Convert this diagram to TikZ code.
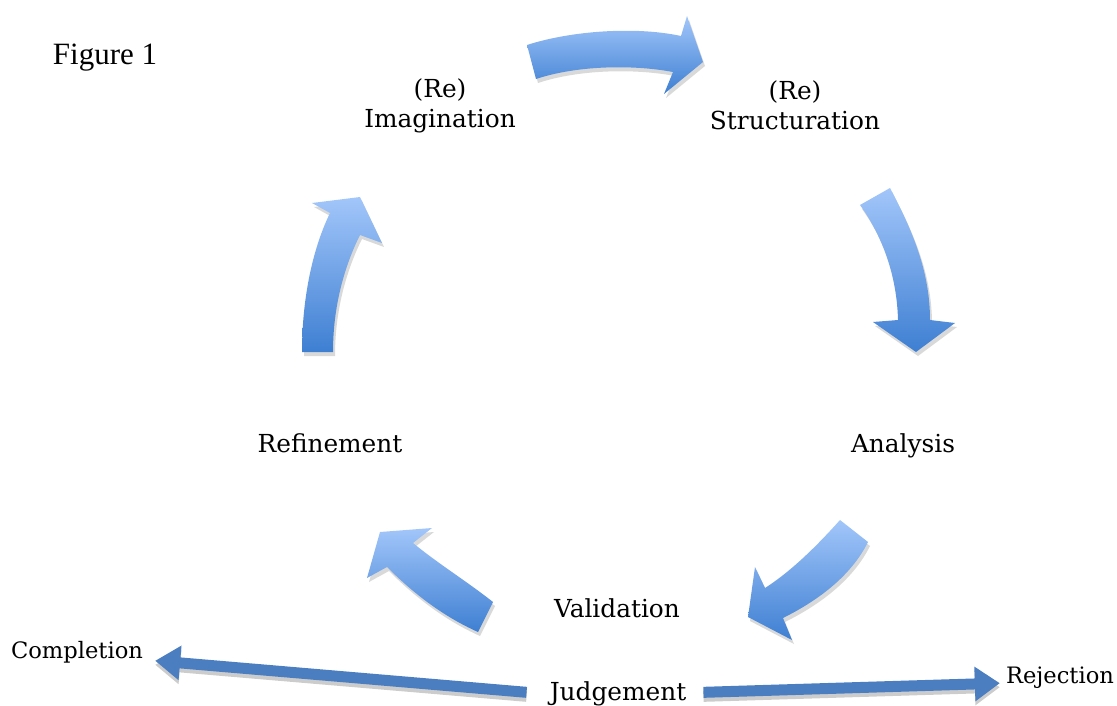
\documentclass[tikz,border=0pt]{standalone}
\usepackage{fontspec}
\setmainfont{DejaVu Serif}
\newfontfamily\figfont{Liberation Serif}
\usetikzlibrary{arrows.meta, positioning}

\definecolor{arrowtop}{RGB}{162,198,250}
\definecolor{arrowbot}{RGB}{62,127,210}
\definecolor{flatblue}{RGB}{74,126,193}

% curved block arrow: soft shadow first, then the shaded body
\newcommand{\bendarrow}[1]{%
	\fill[bendshadow, shift={(2,4)}] #1;
	\shade[bendbody] #1;}

\begin{document}
\begin{tikzpicture}[x=1pt, y=-1pt,
	lbl/.style={inner sep=0pt, font=\fontsize{24.8}{30}\selectfont},
	side/.style={inner sep=0pt, font=\fontsize{22.6}{27}\selectfont},
	bendbody/.style={top color=arrowtop, bottom color=arrowbot, draw=none},
	bendshadow/.style={fill=black, opacity=0.15, draw=none},
	flat/.style={draw=flatblue, line width=11pt, -{Triangle[length=25pt,width=33pt]}},
	flatshadow/.style={draw=black!20, line width=11pt, -{Triangle[length=25pt,width=33pt]}, transform canvas={yshift=-4pt}}]
	
	%//page is 1117 x 706, y runs downwards
	\useasboundingbox (0,0) rectangle (1117,706);
	
	\node [font=\figfont\fontsize{31}{36}\selectfont, inner sep=0pt, anchor=base] (fig) at (105,65) {Figure 1};
	
	\node [lbl, align=center] (imag) at (440,106) {(Re)\\Imagination};
	\node [lbl, align=center] (struct) at (795,105) {(Re)\\Structuration};
	\node [lbl, anchor=base] (anal) at (903,452) {Analysis};
	\node [lbl, anchor=base] (refin) at (330,452) {Refinement};
	\node [lbl, anchor=base] (valid) at (617,617) {Validation};
	\node [lbl, anchor=base] (judge) at (618,700) {Judgement};
	\node [side, anchor=base] (compl) at (77,658) {Completion};
	\node [side, anchor=base] (reject) at (1060,683) {Rejection};
	
	%//the cycle
	\bendarrow{(527,45) .. controls (570,31) and (635,26) .. (681,36) -- (687,16) -- (703,62) -- (664,94) -- (673,72) .. controls (630,64) and (575,66) .. (536,79) -- cycle}
	\bendarrow{(890,188) .. controls (915,235) and (930,275) .. (930,320) -- (955,323) -- (916,352) -- (873,322) -- (898,320) .. controls (897,280) and (885,240) .. (860,205) -- cycle}
	\bendarrow{(840,520) .. controls (815,548) and (790,572) .. (765,588) -- (755,567) -- (748,617) -- (792,640) -- (783,618) .. controls (815,602) and (850,578) .. (868,542) -- cycle}
	\bendarrow{(493,602) .. controls (465,580) and (440,565) .. (413,543) -- (432,528) -- (380,532) -- (367,578) -- (387,567) .. controls (410,590) and (440,615) .. (478,632) -- cycle}
	\bendarrow{(302,352) .. controls (302,300) and (312,250) .. (330,213) -- (312,203) -- (360,197) -- (382,243) -- (360,235) .. controls (345,265) and (333,305) .. (333,352) -- cycle}
	
	%//outcomes of the judgement
	\coordinate (jl) at ([shift={(-23,-1)}]judge.west);
	\coordinate (jr) at ([shift={(17,-1)}]judge.east);
	\coordinate (cl) at ([shift={(12,9)}]compl.east);
	\coordinate (rj) at ([shift={(-6,6)}]reject.west);
	
	\foreach \a/\b in {jl/cl, jr/rj}
	\draw [flatshadow] (\a) -- (\b);
	\foreach \a/\b in {jl/cl, jr/rj}
	\draw [flat] (\a) -- (\b);
	
\end{tikzpicture}
\end{document}
